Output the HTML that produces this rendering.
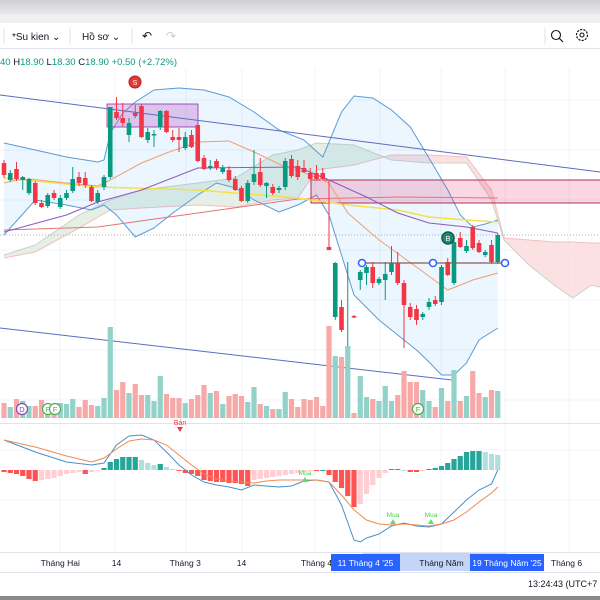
<!DOCTYPE html>
<html><head><meta charset="utf-8">
<style>
html,body{margin:0;padding:0;background:#fff;width:600px;height:600px;overflow:hidden;font-family:"Liberation Sans","Noto Sans CJK SC",sans-serif;}
#wrap{position:relative;width:600px;height:600px;}
svg{position:absolute;left:0;top:0;}
</style></head>
<body>
<div id="wrap">
<svg id="chart" width="600" height="600" viewBox="0 0 600 600">
  <defs>
    <linearGradient id="topg" x1="0" y1="0" x2="0" y2="1"><stop offset="0" stop-color="#cfcfd3"/><stop offset="1" stop-color="#e9e9ec"/></linearGradient>
    <clipPath id="mainclip"><rect x="0" y="68" width="600" height="354"/></clipPath>
  </defs>
  <rect x="0" y="0" width="600" height="14" fill="url(#topg)"/>
  <rect x="0" y="14" width="600" height="9" fill="#f1f1f3"/>
  <rect x="0" y="23" width="600" height="25" fill="#fff"/>
  <line x1="0" y1="48.5" x2="600" y2="48.5" stroke="#e0e3eb"/>
  <line x1="4" y1="28" x2="4" y2="44" stroke="#e0e3eb"/>
  <text x="12" y="40" font-size="10" fill="#131722">*Su kien ⌄</text>
  <line x1="70" y1="28" x2="70" y2="44" stroke="#e0e3eb"/>
  <text x="82" y="40" font-size="10" fill="#131722">Hồ sơ ⌄</text>
  <line x1="132" y1="28" x2="132" y2="44" stroke="#e0e3eb"/>
  <text x="142" y="40" font-size="12" fill="#131722">↶</text>
  <text x="166" y="40" font-size="12" fill="#c9cbd1">↷</text>
  <line x1="545" y1="28" x2="545" y2="44" stroke="#e0e3eb"/>
  <g><circle cx="556" cy="35" r="4.5" fill="none" stroke="#131722" stroke-width="1.1"/><line x1="559" y1="38" x2="563" y2="42" stroke="#131722" stroke-width="1.2"/></g>
  <g><circle cx="582" cy="35" r="5.5" fill="none" stroke="#131722" stroke-width="1.2" stroke-dasharray="2.2 1.2"/><circle cx="582" cy="35" r="2" fill="none" stroke="#131722" stroke-width="1.1"/></g>
  <text x="0" y="65" font-size="9.5"><tspan fill="#089981">40 </tspan><tspan fill="#131722">H</tspan><tspan fill="#089981">18.90 </tspan><tspan fill="#131722">L</tspan><tspan fill="#089981">18.30 </tspan><tspan fill="#131722">C</tspan><tspan fill="#089981">18.90 +0.50 (+2.72%)</tspan></text>
  <g id="grid"></g>
  <g id="main" clip-path="url(#mainclip)"></g>
  <g id="vol"></g>
  <g id="macd"></g>
  <g id="axis"></g>
</svg>
</div>
<script>
// ---------- DATA ----------
const opens  = [22.50,21.65,22.20,21.65,21.00,21.50,20.50,20.35,21.00,20.30,20.75,21.10,21.80,21.75,21.30,20.55,21.30,21.80,25.05,24.75,23.90,25.00,25.35,23.65,23.90,24.30,25.10,23.80,23.80,23.25,23.90,24.40,22.75,22.25,22.60,22.05,22.15,21.70,21.25,20.60,21.55,22.05,21.35,21.30,21.15,21.30,22.70,22.35,22.25,22.00,22.00,22.00,18.30,14.80,15.30,11.65,14.85,16.65,17.00,17.30,16.50,16.65,17.05,17.50,16.50,15.30,15.20,14.80,15.30,15.65,15.55,17.55,16.50,18.75,18.10,19.30,18.50,17.90,18.40,17.55];
const highs  = [22.65,22.15,22.55,21.85,21.75,21.60,20.65,21.00,21.15,20.90,21.15,22.30,22.05,22.05,21.40,21.15,21.90,25.30,25.80,25.50,24.75,25.40,25.45,24.25,24.15,25.15,25.15,24.15,24.25,24.05,24.15,24.50,22.90,22.65,22.70,22.40,22.35,21.85,21.35,21.65,23.15,22.75,21.55,21.45,21.35,22.75,22.90,22.65,22.65,22.25,22.40,22.25,21.65,17.55,15.65,17.55,14.90,17.15,17.40,17.55,16.80,17.55,18.35,18.05,16.65,15.50,15.40,15.05,15.75,15.85,17.40,17.75,18.65,19.05,18.65,19.40,18.65,18.15,18.65,19.00];
const lows   = [21.75,21.55,21.60,21.15,20.90,20.40,20.25,20.25,20.65,20.20,20.65,21.00,21.35,21.25,20.55,20.45,21.15,21.70,24.65,24.35,23.55,24.75,23.75,23.50,23.30,24.15,24.00,23.55,23.05,23.15,23.25,22.55,22.15,22.15,22.15,21.95,21.55,21.10,20.55,20.50,21.40,21.30,20.75,20.90,21.00,21.15,21.75,21.65,22.00,21.65,21.65,21.65,18.15,14.65,14.05,11.40,14.75,16.15,16.40,16.25,16.40,15.65,16.90,16.40,13.25,14.65,14.40,14.65,15.15,15.35,15.40,16.85,16.40,18.25,18.00,18.15,18.00,17.80,17.45,17.45];
const closes = [21.90,22.00,21.70,21.80,21.70,20.50,20.30,20.90,20.75,20.75,21.00,21.70,21.50,21.40,20.60,21.00,21.80,25.30,24.75,24.50,24.50,24.85,23.80,24.05,23.95,25.10,24.05,23.65,23.65,23.80,23.30,22.60,22.20,22.35,22.25,22.25,21.65,21.15,20.60,21.50,21.95,21.40,21.50,21.00,21.25,22.60,21.85,21.80,22.05,21.70,21.70,21.70,18.15,17.50,14.15,12.05,14.80,17.05,17.30,16.50,16.70,16.95,17.50,16.50,15.40,14.80,14.65,14.95,15.55,15.45,17.30,16.90,18.55,18.30,18.35,18.25,18.05,18.05,17.55,18.90];
const volumes = [15,11,19,17,12,12,18,10,12,15,14,19,11,18,13,12,20,91,28,36,25,34,23,23,17,42,24,20,20,15,19,23,33,25,27,14,22,24,22,16,31,14,12,9,9,26,19,11,19,18,21,12,92,62,61,72,5,42,21,19,17,32,17,23,47,36,36,28,17,11,30,17,48,17,22,47,25,21,28,27];
const macdHist = [-2,-3,-4,-6,-9,-11,-10,-9,-8,-6,-4,-3,-2,-4,-2,-1,2,8,11,13,13,13,10,7,5,6,3,1,-1,-3,-4,-6,-10,-11,-12,-12,-13,-13,-14,-16,-10,-9,-8,-7,-6,-5,-4,-3,-2,-1,-1,0,-5,-12,-18,-26,-37,-34,-24,-15,-8,-3,1,1,0,-2,-2,-1,1,2,4,7,11,14,18,19,19,18,16,15];
const macdIdx = [0,5,10,14,16,18,20,22,24,26,28,30,32,34,36,38,40,42,44,46,48,50,52,54,56,57,58,60,62,64,66,68,70,72,74,76,78,79];
const macdLine = [30,18,8,5,7,25,34,35,30,18,5,-5,-12,-15,-17,-20,-15,-16,-17,-16,-11,-10,-12,-35,-70,-72,-68,-64,-56,-53,-56,-57,-54,-42,-30,-20,-14,0];
const signalLine = [30,23,14,8,12,21,29,31,30,25,15,5,-4,-9,-11,-12,-13,-11,-10,-10,-10,-10,-12,-25,-40,-45,-50,-54,-55,-54,-55,-56,-54,-50,-42,-32,-23,-17];
const bbUpIdx = [0,5,10,15,16,17,19,21,24,28,32,36,40,44,48,51,54,56,59,62,65,68,71,73,75,77,79];
const bbUpper = [23.50,23.15,22.80,22.55,22.65,24.00,25.00,25.55,26.15,26.25,26.15,25.80,25.05,24.15,23.65,22.80,25.05,25.85,25.75,25.15,24.30,22.75,21.15,19.90,19.30,19.45,19.65];
const bbLoIdx = [0,5,10,14,16,18,21,24,27,31,34,37,40,44,47,50,52,54,56,60,64,66,68,70,72,74,76,79];
const bbLower = [18.90,20.65,20.40,20.15,20.40,19.90,18.80,19.25,20.00,20.90,21.50,21.25,20.65,20.05,20.40,20.90,19.90,17.90,15.90,14.65,13.65,13.15,12.55,11.90,11.90,12.50,13.65,14.25];
const maFastIdx = [0,2,4,10,15,17,22,26,31,36,40,45,47,52,55,60,66,71,75,79];
const maFast = [21.50,21.65,21.70,21.50,21.35,21.65,22.50,23.00,23.55,23.60,23.05,22.30,22.15,21.50,20.00,18.65,17.30,16.15,16.65,17.00];
const maMidIdx = [0,10,15,22,31,47,52,58,63,68,74,79];
const maMid = [19.05,19.90,20.55,21.15,22.25,22.30,21.65,20.80,20.00,19.50,19.30,19.00];
const maSlowIdx = [0,15,31,47,49,55,63,68,74,79];
const maSlow = [21.75,21.30,21.15,20.75,20.65,20.40,20.15,19.80,19.65,19.55];
const maLongIdx = [0,15,31,47,63,79];
const maLong = [19.15,19.30,20.00,20.70,20.80,20.75];
const cloudIdx = [0,5,12,17,22,31,37,43,47,50,56,62,68,74,78,80,84,88,91,94,97];
const spanA = [17.90,18.40,19.90,20.65,21.15,21.50,21.75,22.90,23.15,23.50,23.40,22.65,22.50,22.50,20.65,18.65,17.40,16.40,15.75,16.40,16.15];
const spanB = [17.75,18.05,19.25,20.15,20.25,20.40,20.30,20.65,20.75,22.15,22.40,22.90,22.90,22.80,21.15,18.75,18.65,18.55,18.55,18.50,18.50];
const timeLabels = ["Tháng Hai","14","Tháng 3","14","Tháng 4","Tháng Năm","Tháng 6"];
const timeLabelIdx = [9,18,29,38,50,70,90];
const lastPrice = 18.90;

// ---------- SCALES ----------
const xS = i => 4 + i*6.25;
const yS = p => (30.65 - p)*20;
const volBase = 418, volY = v => volBase - v;
const macdZero = 470, mY = v => macdZero - v;
const NS = "http://www.w3.org/2000/svg";
function mk(parent, tag, attrs){const e=document.createElementNS(NS,tag);for(const k in attrs)e.setAttribute(k,attrs[k]);parent.appendChild(e);return e;}
const main=document.getElementById('main'), vol=document.getElementById('vol'), macd=document.getElementById('macd'), axis=document.getElementById('axis'), grid=document.getElementById('grid');

// grid
[60,115,186,242,315,380,441,505,569].forEach(x=>{const l=mk(grid,'line',{x1:x,y1:68,x2:x,y2:552,stroke:'#f0f3fa'});

});
[100,150,200,250,300,350,400,450,500].forEach(y=>{const l=mk(grid,'line',{x1:0,y1:y,x2:600,y2:y,stroke:'#f0f3fa'});

});

function pathFrom(idx, vals, yf){return idx.map((i,k)=>(k?'L':'M')+xS(i).toFixed(1)+','+yf(vals[k]).toFixed(1)).join(' ');}

// cloud segments
for(let k=0;k<cloudIdx.length-1;k++){
  const i0=cloudIdx[k],i1=cloudIdx[k+1];
  const up = spanA[k]+spanA[k+1] >= spanB[k]+spanB[k+1];
  const pg=mk(main,'polygon',{points:`${xS(i0)},${yS(spanA[k])} ${xS(i1)},${yS(spanA[k+1])} ${xS(i1)},${yS(spanB[k+1])} ${xS(i0)},${yS(spanB[k])}`,fill:up?'#e6efe6':'#fbe1e1',stroke:'none'});
  
  
}
const sa=mk(main,'path',{d:pathFrom(cloudIdx,spanA,yS),fill:'none',stroke:'#c8d4c8','stroke-width':1});


const sb=mk(main,'path',{d:pathFrom(cloudIdx,spanB,yS),fill:'none',stroke:'#f3c0c0','stroke-width':1});



// bollinger fill
const bbd = pathFrom(bbUpIdx,bbUpper,yS) + ' ' + bbLoIdx.slice().reverse().map((i,k)=>'L'+xS(i)+','+yS(bbLower[bbLower.length-1-k])).join(' ')+' Z';
const bbf=mk(main,'path',{d:bbd,fill:'#2196f3','fill-opacity':0.09,stroke:'none'});


const bu=mk(main,'path',{d:pathFrom(bbUpIdx,bbUpper,yS),fill:'none',stroke:'#5b9bd5','stroke-width':1});


const bl=mk(main,'path',{d:pathFrom(bbLoIdx,bbLower,yS),fill:'none',stroke:'#5b9bd5','stroke-width':1});



// rectangles & trend lines
const r1=mk(main,'rect',{x:107,y:104,width:91,height:23,fill:'#ba68c8','fill-opacity':0.35,stroke:'#9c27b0','stroke-width':0.8});


const r2=mk(main,'rect',{x:311,y:180,width:300,height:23,fill:'#e91e63','fill-opacity':0.18,stroke:'#b0304f','stroke-width':1});


const t1=mk(main,'line',{x1:0,y1:95,x2:600,y2:172,stroke:'#5c6bc0','stroke-width':1});


const t2=mk(main,'line',{x1:0,y1:328,x2:452,y2:380,stroke:'#5c6bc0','stroke-width':1});



// moving averages
[[maLongIdx,maLong,'#e57373','ma-long'],[maSlowIdx,maSlow,'#f5e04a','ma-slow'],[maMidIdx,maMid,'#8e5bbd','ma-mid'],[maFastIdx,maFast,'#f0a070','ma-fast']].forEach(([ix,v,c,n])=>{
  const p=mk(main,'path',{d:pathFrom(ix,v,yS),fill:'none',stroke:c,'stroke-width':n==='ma-slow'?1.5:1});
  
  
});

// price line
const pl=mk(main,'line',{x1:0,y1:yS(lastPrice),x2:600,y2:yS(lastPrice),stroke:'#9598a1','stroke-dasharray':'1 2','stroke-width':0.8});



// volume
volumes.forEach((v,i)=>{
  const g = closes[i]>=opens[i];
  const r=mk(vol,'rect',{x:xS(i)-2.6,y:volY(v),width:5.2,height:v,fill:g?'#92d2c8':'#f7a9a8'});
  
  
});

// candles
opens.forEach((o,i)=>{
  const c=closes[i], g=c>=o, col=g?'#089981':'#f23645', x=xS(i);
  const w=mk(main,'line',{x1:x,y1:yS(highs[i]),x2:x,y2:yS(lows[i]),stroke:col,'stroke-width':1});
  
  
  const top=yS(Math.max(o,c)), h=Math.max(1.5,Math.abs(yS(o)-yS(c)));
  const b=mk(main,'rect',{x:x-2.3,y:top,width:4.6,height:h,fill:col});
  
  
});

// annotations in price pane
const hl=mk(main,'line',{x1:362,y1:263,x2:505,y2:263,stroke:'#8d5a5a','stroke-width':1.2});


[362,433,505].forEach(x=>{const h=mk(main,'circle',{cx:x,cy:263,r:3.5,fill:'#fff',stroke:'#2962ff','stroke-width':1.5});

});
const bm=mk(main,'circle',{cx:448,cy:238,r:6,fill:'#1f8a70',stroke:'#0b5f4a','stroke-width':1.5});


const bt=mk(main,'text',{x:448,y:241,'font-size':7,fill:'#fff','text-anchor':'middle'});bt.textContent='B';


const sm=mk(main,'circle',{cx:135,cy:82,r:6,fill:'#e53935',stroke:'#b71c1c','stroke-width':1});


const st=mk(main,'text',{x:135,y:85,'font-size':7,fill:'#fff','text-anchor':'middle'});st.textContent='S';



// event markers
[[22,'D','#8e44ad'],[48,'F','#4caf50'],[55,'F','#4caf50'],[418,'F','#4caf50']].forEach(([x,t,c])=>{
  const ci=mk(vol,'circle',{cx:x,cy:409,r:5.5,fill:'#fff',stroke:c,'stroke-width':1.2});
  
  
  const tx=mk(vol,'text',{x:x,y:412,'font-size':7.5,fill:c,'text-anchor':'middle'});tx.textContent=t;
  
  
});

// pane separator
const sep=mk(macd,'line',{x1:0,y1:423.5,x2:600,y2:423.5,stroke:'#e0e3eb'});



// MACD histogram
macdHist.forEach((v,i)=>{
  const prev = i>0?macdHist[i-1]:v;
  let col;
  if(v>=0) col = v>=prev ? '#26a69a' : '#b2dfdb';
  else col = v<=prev ? '#ff5252' : '#ffcdd2';
  const r=mk(macd,'rect',{x:xS(i)-2.6,y:v>=0?mY(v):macdZero,width:5.2,height:Math.max(1,Math.abs(v)),fill:col});
  
  
});
const ml=mk(macd,'path',{d:pathFrom(macdIdx,macdLine,mY),fill:'none',stroke:'#4a90c8','stroke-width':1});


const sl=mk(macd,'path',{d:pathFrom(macdIdx,signalLine,mY),fill:'none',stroke:'#f08a50','stroke-width':1});


// signal markers
const sellT=mk(macd,'polygon',{points:'177,427 183,427 180,432',fill:'#f23645'});


const sellL=mk(macd,'text',{x:180,y:432-7,'font-size':7,fill:'#f23645','text-anchor':'middle'});sellL.textContent='Bán';


[[305,482],[393,524],[431,524]].forEach(([x,y])=>{
  const tr=mk(macd,'polygon',{points:`${x-3},${y} ${x+3},${y} ${x},${y-5}`,fill:'#5ee05e'});
  
  
  const tl=mk(macd,'text',{x:x,y:y-7,'font-size':6.5,fill:'#4cd04c','text-anchor':'middle'});tl.textContent='Mua';
  
  
});

// time axis
const ab=mk(axis,'line',{x1:0,y1:552.5,x2:600,y2:552.5,stroke:'#e0e3eb'});


const rng=mk(axis,'rect',{x:362,y:553,width:145,height:18,fill:'#c5d5f7'});


timeLabels.forEach((t,k)=>{
  const tx=mk(axis,'text',{x:xS(timeLabelIdx[k]),y:566,'font-size':8.5,fill:'#131722','text-anchor':'middle'});tx.textContent=t;
  
  
});
[[331,69,"11 Tháng 4 '25"],[470,74,"19 Tháng Năm '25"]].forEach(([x,w,t])=>{
  const r=mk(axis,'rect',{x:x,y:554,width:w,height:17,fill:'#2962ff'});
  
  
  const tx=mk(axis,'text',{x:x+w/2,y:566,'font-size':8.5,fill:'#fff','text-anchor':'middle'});tx.textContent=t;
  
  
});
const bl2=mk(axis,'line',{x1:0,y1:572.5,x2:600,y2:572.5,stroke:'#e0e3eb'});


const clk=mk(axis,'text',{x:528,y:587,'font-size':9,fill:'#131722'});clk.textContent='13:24:43 (UTC+7';


const bb=mk(axis,'rect',{x:0,y:596,width:600,height:4,fill:'#8a8a8a'});


</script>
</body></html>
